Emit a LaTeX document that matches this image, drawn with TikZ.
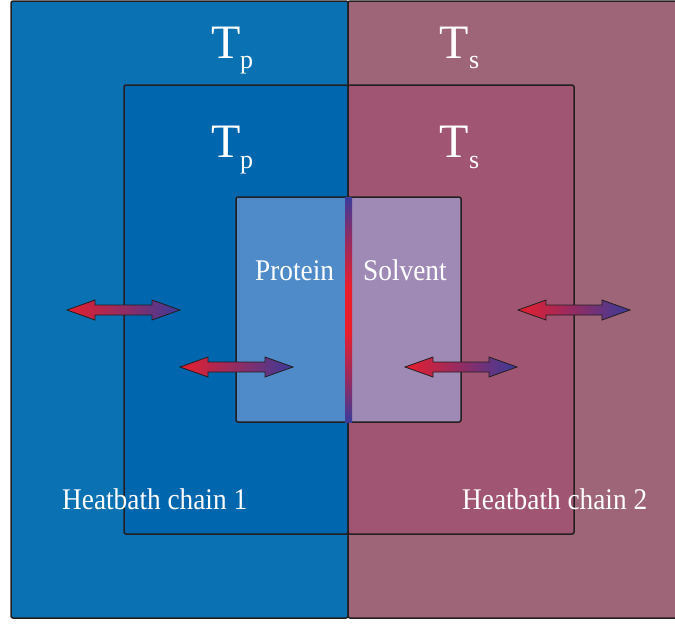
\documentclass[tikz,border=0pt]{standalone}
\usepackage{graphicx}
\usepackage{fontspec}
\setmainfont{Liberation Serif}

\definecolor{outerL}{RGB}{10,113,178}
\definecolor{midL}{RGB}{0,102,173}
\definecolor{innerL}{RGB}{79,139,201}
\definecolor{outerR}{RGB}{158,101,121}
\definecolor{midR}{RGB}{160,86,114}
\definecolor{innerR}{RGB}{158,138,180}
\definecolor{hotred}{RGB}{232,30,45}
\definecolor{hotmid}{RGB}{160,40,92}
\definecolor{coldblue}{RGB}{59,59,154}
\definecolor{edge}{RGB}{35,31,32}

% blue - red - blue along the protein/solvent interface
\pgfdeclareverticalshading{interface}{100bp}{%
  color(0bp)=(coldblue); color(25bp)=(coldblue);
  color(34bp)=(coldblue!50!hotred); color(45bp)=(hotred); color(55bp)=(hotred);
  color(66bp)=(coldblue!50!hotred); color(75bp)=(coldblue); color(100bp)=(coldblue)}

% double-headed heat-exchange arrow: left tip x, right tip x, centre y
\newcommand\heatarrow[3]{%
  \shade[heatflow]
    (#1,#3) -- ({#1+28},{#3-10}) -- ({#1+28},{#3-5}) -- ({#2-28},{#3-5})
    -- ({#2-28},{#3-10}) -- (#2,#3) -- ({#2-28},{#3+10}) -- ({#2-28},{#3+5})
    -- ({#1+28},{#3+5}) -- ({#1+28},{#3+10}) -- cycle;}

% slightly condensed label text
\newcommand\condensed[1]{\scalebox{0.91}[1]{#1}}

\tikzset{
  region/.style={draw=edge, line width=1.5pt, rounded corners=2pt},
  heatflow/.style={left color=hotred, middle color=hotmid, right color=coldblue,
                   draw=edge, line width=0.8pt},
  bigT/.style={text=white, inner sep=0pt, anchor=base west,
               font=\fontsize{48}{48}\selectfont},
  subT/.style={text=white, inner sep=0pt, anchor=base west,
               font=\fontsize{26}{26}\selectfont},
  label/.style={text=white, inner sep=0pt, anchor=base west,
                font=\fontsize{30}{30}\selectfont},
}

\begin{document}
\begin{tikzpicture}[x=1pt, y=-1pt]
\useasboundingbox (0,0) rectangle (675,625);

% outer heat-bath regions
\filldraw[region, fill=outerL] (11,1) rectangle (348,618);
\filldraw[region, fill=outerR] (348,1) rectangle (700,618);

% middle heat-bath regions
\filldraw[region, fill=midL] (124,85) rectangle (348,534);
\filldraw[region, fill=midR] (348,85) rectangle (574,534);

% protein and solvent boxes
\filldraw[region, fill=innerL] (236,197) rectangle (348,422);
\filldraw[region, fill=innerR] (348,197) rectangle (461,422);

% interface bar between protein and solvent
\shade[shading=interface] (345,197) rectangle (352,422);

% temperatures
\node[bigT] (tp1) at (211,58) {T};
\node[subT] (tp1s) at (240,68) {p};
\node[bigT] (ts1) at (439,58) {T};
\node[subT] (ts1s) at (469,68) {s};
\node[bigT] (tp2) at (211,157) {T};
\node[subT] (tp2s) at (240,168) {p};
\node[bigT] (ts2) at (439,157) {T};
\node[subT] (ts2s) at (469,168) {s};

% region labels
\node[label] (protein) at (255,280) {\condensed{Protein}};
\node[label] (solvent) at (363,280) {\condensed{Solvent}};
\node[label] (chain1) at (62,509) {\condensed{Heatbath chain 1}};
\node[label] (chain2) at (462,509) {\condensed{Heatbath chain 2}};

% heat exchange arrows
\heatarrow{67}{180}{310}
\heatarrow{180}{293}{367}
\heatarrow{518}{630}{310}
\heatarrow{405}{517}{367}
\end{tikzpicture}
\end{document}
